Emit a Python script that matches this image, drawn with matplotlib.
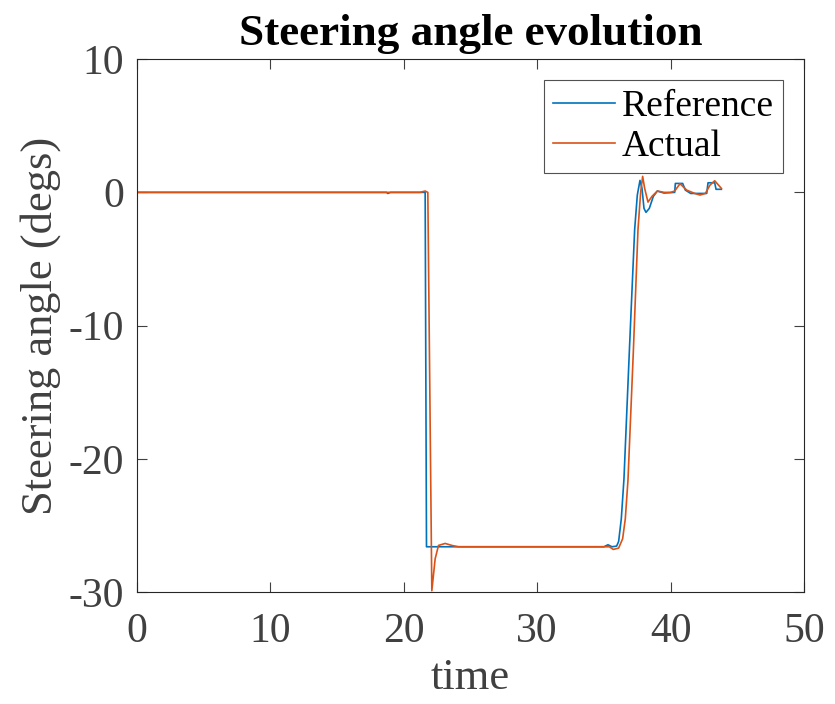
import matplotlib
matplotlib.use("Agg")
import matplotlib.pyplot as plt

# Reference steering angle (degs) vs time
t_ref = [0, 18.7, 18.8, 19.0, 21.6, 21.7, 35.0, 35.3, 35.6, 35.95, 36.1, 36.3, 36.5,
         36.9, 37.3, 37.5, 37.7, 37.85, 38.0, 38.15, 38.4, 38.7, 39.0, 39.5, 40.3,
         40.35, 40.9, 41.1, 41.5, 42.7, 42.8, 43.3, 43.4, 43.8]
a_ref = [0, 0, -0.08, 0, 0, -26.6, -26.6, -26.45, -26.6, -26.55, -26.2, -24.5, -21.5,
         -12, -2.8, -0.2, 0.9, 0.3, -1.2, -1.5, -1.2, -0.3, 0.1, -0.05, 0.0,
         0.67, 0.67, 0.17, -0.08, -0.08, 0.72, 0.72, 0.23, 0.23]

# Actual steering angle (degs) vs time
t_act = [0, 21.2, 21.6, 21.8, 22.1, 22.35, 22.6, 23.1, 23.6, 24.1, 35.0, 35.4, 35.7,
         36.1, 36.4, 36.6, 36.8, 37.2, 37.55, 37.75, 37.9, 38.05, 38.3, 38.6, 39.0,
         39.5, 40.0, 40.3, 40.7, 41.2, 41.8, 42.2, 42.6, 42.95, 43.3, 43.8]
a_act = [0, 0, 0.1, 0, -29.9, -27.5, -26.5, -26.35, -26.5, -26.6, -26.6, -26.6, -26.8,
         -26.7, -26.0, -24.5, -21.6, -12, -2.8, 0.0, 1.2, 0.3, -0.73, -0.3, 0.1,
         0.0, 0.0, 0.1, 0.65, 0.17, -0.08, -0.2, -0.08, 0.55, 0.87, 0.3]

plt.rcParams['font.family'] = ['Liberation Serif', 'DejaVu Serif']

fig = plt.figure(figsize=(8.35, 7.04), dpi=100)
ax = fig.add_axes([0.164, 0.159, 0.799, 0.757])

ax.plot(t_ref, a_ref, color='#0072BD', lw=1.2, label='Reference')
ax.plot(t_act, a_act, color='#D95319', lw=1.2, label='Actual')

ax.set_xlim(0, 50)
ax.set_ylim(-30, 10)
ax.set_xticks([0, 10, 20, 30, 40, 50])
ax.set_yticks([-30, -20, -10, 0, 10])
ax.set_yticklabels(['-30', '-20', '-10', '0', '10'])
ax.tick_params(direction='in', top=True, right=True, labelsize=30,
               colors='#404040', length=7, width=0.8)
ax.tick_params(axis='x', pad=15)
ax.tick_params(axis='y', pad=9)
for s in ax.spines.values():
    s.set_color('#262626')
    s.set_linewidth(0.8)

ax.set_xlabel('time', fontsize=32, color='#404040', labelpad=5)
ax.set_ylabel('Steering angle (degs)', fontsize=32, color='#404040', labelpad=6)
ax.set_title('Steering angle evolution', fontsize=32.5, fontweight='bold', pad=10)

leg = ax.legend(loc='upper right', fontsize=27, frameon=True, fancybox=False,
                edgecolor='#262626', handlelength=1.65, handletextpad=0.19,
                borderpad=0.25, labelspacing=0.15, borderaxespad=0.55)
leg.get_frame().set_linewidth(0.8)

fig.savefig('out.png', dpi=100)
